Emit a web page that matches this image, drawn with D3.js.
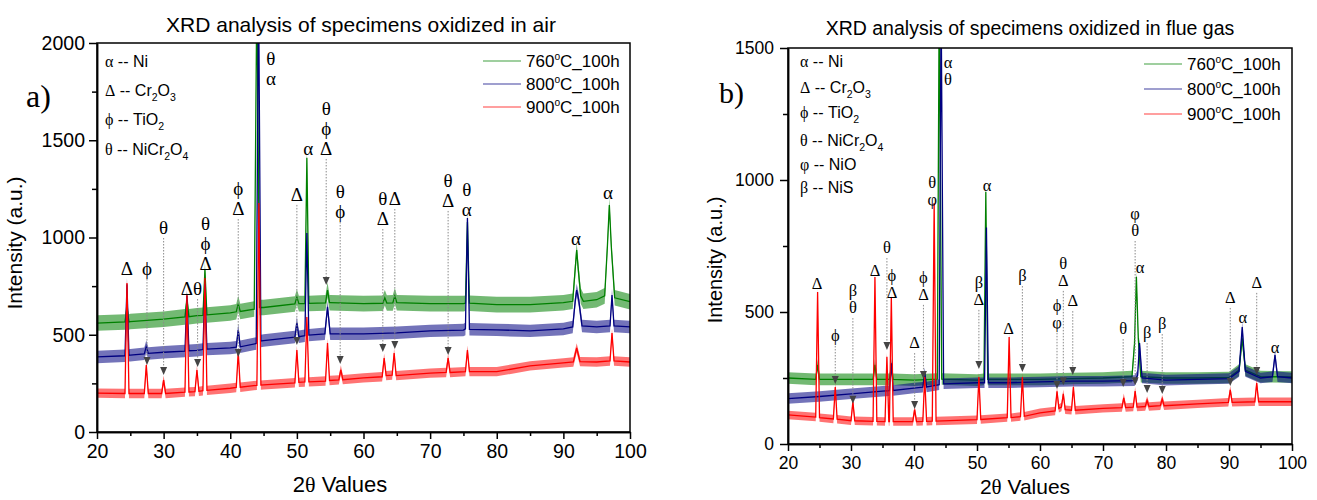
<!DOCTYPE html>
<html lang="en">
<head>
<meta charset="utf-8">
<title>XRD analysis of oxidized specimens</title>
<script src="https://cdn.jsdelivr.net/npm/d3@7"></script>
<style>
  body { margin: 0; background: #fff; }
  svg text { font-family: "Liberation Sans", Arial, sans-serif; fill: #000; }
  svg .greek { font-family: "Liberation Serif", "Times New Roman", serif; }
  .axis path, .axis line { stroke: #000; stroke-width: 1.5px; }
</style>
</head>
<body>
<svg id="chart" width="1317" height="500"></svg>
<script>
// ---------- data ----------
var seriesNames = ['760°C_100h', '800°C_100h', '900°C_100h'];
var seriesColors = ['#008000', '#000080', '#ff0000'];

var airPhases = ['α -- Ni', 'Δ -- Cr_2O_3', 'ϕ -- TiO_2', 'θ -- NiCr_2O_4'];
var gasPhases = ['α -- Ni', 'Δ -- Cr_2O_3', 'ϕ -- TiO_2', 'θ -- NiCr_2O_4', 'φ -- NiO', 'β -- NiS'];

// [2theta, intensity]
var air760 = [[20,560],[24.2,566],[24.5,640],[24.8,566],[25,568],[30,580],[33.2,592],[33.5,680],[33.8,593],[35,598],
  [35.9,600],[36.2,833],[36.5,602],[40,612],[40.9,618],[41.2,660],[41.5,620],[43.6,632],[44,2300],[44.4,640],[45,640],
  [49.7,658],[50,694],[50.3,660],[51.2,660],[51.5,1410],[51.8,661],[54.3,664],[54.6,730],[54.9,665],[55,665],[60,660],
  [62.9,662],[63.2,690],[63.5,663],[64.4,664],[64.7,700],[65,665],[70,660],[75,660],[75.3,662],[75.6,1080],[75.9,662],
  [80,655],[85,655],[90,665],[91.4,672],[91.8,850],[92,936],[92.2,850],[92.6,700],[93,672],[95,680],[96.2,700],
  [96.6,950],[96.9,1167],[97.2,950],[97.7,690],[100,670]];
var air800 = [[20,386],[24.2,392],[24.5,760],[24.8,394],[25,395],[27.1,402],[27.4,440],[27.7,404],[30,410],[33.2,416],
  [33.5,700],[33.8,418],[35,420],[35.9,424],[36.2,760],[36.5,426],[40,432],[40.9,436],[41.2,524],[41.5,438],[43.9,455],
  [44.25,2300],[44.6,468],[45,470],[49.7,488],[50,560],[50.3,490],[51.2,495],[51.5,1023],[51.8,498],[54.2,505],[54.6,643],
  [55,505],[60,505],[65,510],[70,520],[75,524],[75.3,530],[75.6,1100],[75.9,528],[80,525],[85,520],[90,530],[91.4,540],
  [91.8,680],[92,730],[92.3,680],[92.8,545],[95,540],[97,545],[97.3,704],[97.6,545],[100,540]];
var air900 = [[20,200],[24.2,198],[24.5,766],[24.8,198],[25,198],[27.1,198],[27.4,344],[27.7,198],[29.7,198],[30,267],
  [30.3,198],[33.2,205],[33.5,704],[33.8,206],[34.7,208],[35,319],[35.3,209],[35.9,212],[36.2,792],[36.5,214],[40,225],
  [40.9,229],[41.2,411],[41.5,230],[44,240],[44.3,1177],[44.6,241],[45,242],[49.7,253],[50,421],[50.3,255],[51.2,257],
  [51.5,591],[51.8,258],[54.3,262],[54.6,458],[54.9,265],[56.3,268],[56.6,319],[56.9,269],[60,278],[62.8,284],
  [63.1,380],[63.4,290],[64.3,292],[64.6,406],[64.9,290],[70,303],[72.4,306],[72.7,380],[73,306],[75.3,310],[75.6,421],
  [75.9,310],[80,310],[85,340],[90,355],[91.5,360],[92,432],[92.5,362],[95,360],[97,365],[97.3,509],[97.6,365],[100,360]];

var gas760 = [[20,250],[24.4,245],[24.7,300],[25,245],[30,245],[33.5,245],[33.8,300],[34.1,245],[36.1,245],[36.4,290],
  [36.7,245],[40,242],[43.7,246],[44,1700],[44.4,246],[50,242],[51.1,245],[51.4,955],[51.7,245],[55,245],[60,245],
  [65,248],[70,250],[74.6,255],[75,380],[75.3,633],[75.6,400],[76,255],[80,250],[85,250],[90,252],[91.6,280],
  [92.1,400],[92.6,280],[95,255],[100,254]];
var gas800 = [[20,172],[25,180],[30,190],[35,200],[36.1,202],[36.4,306],[36.7,203],[40,212],[41.4,215],[41.7,270],
  [42,216],[44,225],[44.3,1700],[44.7,228],[50,232],[51.2,232],[51.5,820],[51.8,232],[55,232],[60,235],[65,238],
  [70,238],[75,240],[75.5,260],[75.8,382],[76.2,250],[80,242],[85,245],[90,248],[91.6,275],[92.1,443],[92.6,275],
  [95,250],[96.9,255],[97.3,337],[97.7,255],[100,250]];
var gas900 = [[20,110],[24.4,102],[24.7,576],[25,100],[27.2,95],[27.5,216],[27.8,94],[30,88],[30.3,160],[30.6,88],
  [33.5,86],[33.8,633],[34.1,86],[35.4,85],[35.7,330],[36,85],[36.1,85],[36.4,557],[36.7,85],[39.8,85],[40.1,130],
  [40.4,85],[41.4,86],[41.7,254],[42,86],[42.9,87],[43.2,913],[43.5,87],[50,92],[50.3,254],[50.6,93],[54.8,100],
  [55.1,405],[55.4,100],[56.9,104],[57.2,254],[57.5,105],[60,118],[62.4,125],[62.7,200],[63,135],[63.4,140],
  [63.7,190],[64,130],[65,128],[65.3,216],[65.6,128],[70,135],[73,138],[73.3,175],[73.6,138],[74.8,140],[75.1,200],
  [75.4,140],[76.7,142],[77,165],[77.3,142],[79.1,145],[79.4,170],[79.7,145],[85,152],[89.9,158],[90.2,205],
  [90.5,158],[94.1,160],[94.4,231],[94.7,160],[100,160]];

// half width of the noise band of each scan
var airNoise = [40, 32, 24];
var gasNoise = [22, 20, 16];

// peak marks: [2theta, labels, intensity of top label, arrow tip intensity]
var airMarks = [[24.5,'Δ',843,null],[27.5,'ϕ',843,344],[30,'θ',1054,293],[33.5,'Δ',740,null],[35.1,'θ',740,334],
  [36.3,'θϕΔ',1075,null],[41.2,'ϕΔ',1254,386],[46.1,'θα',1923,null],[50,'Δ',1224,447],[51.7,'α',1460,null],
  [54.4,'θϕΔ',1666,756],[56.5,'θϕ',1239,350],[62.9,'θΔ',1203,411],[64.7,'Δ',1203,427],[72.7,'θΔ',1296,396],
  [75.5,'θα',1249,null],[91.9,'α',997,null],[96.7,'α',1234,null]];
var gasMarks = [[24.6,'Δ',610,null],[27.5,'ϕ',413,227],[30.3,'βθ',583,152],[33.8,'Δ',659,null],[35.7,'θ',746,356],
  [36.5,'ϕΔ',640,null],[40.1,'Δ',386,133],[41.5,'ϕΔ',633,246],[42.9,'θφ',992,null],[45.4,'αθ',1447,null],
  [50.3,'βΔ',614,284],[51.6,'α',981,null],[55,'Δ',439,null],[57.2,'β',640,273],[62.7,'ϕφ',527,208],
  [63.7,'θΔ',686,223],[65.2,'Δ',545,261],[73.2,'θ',439,216],[75.1,'φθ',875,223],[75.9,'α',670,null],
  [77,'β',424,193],[79.4,'β',458,189],[90.2,'Δ',557,220],[92.2,'α',481,null],[94.4,'Δ',614,261],[97.3,'α',367,null]];

var xMajor = [20, 30, 40, 50, 60, 70, 80, 90, 100];
var xMinor = [25, 35, 45, 55, 65, 75, 85, 95];

// ---------- drawing ----------
var svg = d3.select('#chart');

function phaseText(sel, str, fs) {
  sel.append('tspan').attr('class', 'greek').text(str[0]);
  var down = false;
  str.slice(1).split(/_(\d)/).forEach(function(part, i) {
    if (part === '') return;
    var t = sel.append('tspan').text(part);
    if (i % 2 === 1) {
      t.attr('font-size', fs * 0.66).attr('dy', down ? 0 : fs * 0.3);
      down = true;
    } else if (down) {
      t.attr('dy', -fs * 0.3);
      down = false;
    }
  });
}

function tempText(sel, str, fs) {
  var parts = str.split('°');
  sel.append('tspan').text(parts[0]);
  sel.append('tspan').text('o').attr('font-size', fs * 0.6).attr('dy', -fs * 0.42);
  sel.append('tspan').text(parts[1]).attr('dy', fs * 0.42);
}

function drawPanel(p, idx) {
  var g = svg.append('g');
  var x = d3.scaleLinear().domain([20, 100]).range([p.left, p.right]);
  var y = d3.scaleLinear().domain([0, p.yMax]).range([p.bottom, p.top]);

  g.append('clipPath').attr('id', 'clip' + idx)
    .append('rect').attr('x', p.left).attr('y', p.top)
    .attr('width', p.right - p.left).attr('height', p.bottom - p.top);

  var plot = g.append('g').attr('clip-path', 'url(#clip' + idx + ')');

  p.series.forEach(function(s, i) {
    var band = d3.area()
      .x(function(d) { return x(d[0]); })
      .y0(function(d) { return y(d[1] - p.noise[i]); })
      .y1(function(d) { return y(d[1] + p.noise[i]); });
    var line = d3.line()
      .x(function(d) { return x(d[0]); })
      .y(function(d) { return y(d[1]); });
    plot.append('path').datum(s).attr('d', band)
      .attr('fill', seriesColors[i]).attr('fill-opacity', 0.55);
    plot.append('path').datum(s).attr('d', line)
      .attr('fill', 'none').attr('stroke', seriesColors[i]).attr('stroke-width', 1.3);
  });

  // peak labels, dotted leaders and arrow heads
  p.marks.forEach(function(m) {
    var px = x(m[0]);
    var labels = m[1].split('');
    var yTop = y(m[2]);
    labels.forEach(function(c, k) {
      g.append('text').attr('class', 'greek')
        .attr('x', px).attr('y', yTop + k * p.markGap)
        .attr('dy', '0.35em')
        .attr('text-anchor', 'middle')
        .attr('font-size', p.markFs)
        .text(c);
    });
    if (m[3] !== null) {
      var y0 = yTop + (labels.length - 1) * p.markGap + 11;
      var tip = y(m[3]);
      g.append('line').attr('x1', px).attr('x2', px).attr('y1', y0).attr('y2', tip - 6)
        .attr('stroke', '#8a8a8a').attr('stroke-width', 1).attr('stroke-dasharray', '1.5,1.5');
      g.append('path')
        .attr('d', 'M' + (px - 3.5) + ',' + (tip - 8) + 'L' + (px + 3.5) + ',' + (tip - 8) + 'L' + px + ',' + tip + 'Z')
        .attr('fill', '#444');
    }
  });

  // frame
  g.append('rect').attr('x', p.left).attr('y', p.top)
    .attr('width', p.right - p.left).attr('height', p.bottom - p.top)
    .attr('fill', 'none').attr('stroke', '#000').attr('stroke-width', 1.5);

  // axes
  var xAxis = g.append('g').attr('class', 'axis')
    .attr('transform', 'translate(0,' + p.bottom + ')')
    .call(d3.axisBottom(x).tickValues(xMajor).tickSize(7).tickSizeOuter(0)
      .tickPadding(p.xPad).tickFormat(d3.format('d')));
  xAxis.selectAll('text').attr('font-size', p.tickFs);
  g.append('g').attr('class', 'axis')
    .attr('transform', 'translate(0,' + p.bottom + ')')
    .call(d3.axisBottom(x).tickValues(xMinor).tickSize(4).tickSizeOuter(0).tickFormat(''));

  var yAxis = g.append('g').attr('class', 'axis')
    .attr('transform', 'translate(' + p.left + ',0)')
    .call(d3.axisLeft(y).tickValues(p.yMajor).tickSize(8).tickSizeOuter(0)
      .tickPadding(p.yPad).tickFormat(d3.format('d')));
  yAxis.selectAll('text').attr('font-size', p.tickFs);
  g.append('g').attr('class', 'axis')
    .attr('transform', 'translate(' + p.left + ',0)')
    .call(d3.axisLeft(y).tickValues(p.yMinor).tickSize(5).tickSizeOuter(0).tickFormat(''));
  g.selectAll('.axis text').attr('font-family', '"Liberation Sans", Arial, sans-serif');

  // titles and axis labels
  g.append('text').attr('x', p.titleX).attr('y', p.titleY)
    .attr('text-anchor', 'middle').attr('font-size', p.titleFs).text(p.title);
  var xl = g.append('text').attr('x', p.xLabelX).attr('y', p.xLabelY)
    .attr('text-anchor', 'middle').attr('font-size', p.labelFs);
  xl.append('tspan').text('2');
  xl.append('tspan').attr('class', 'greek').text('θ');
  xl.append('tspan').text(' Values');
  g.append('text')
    .attr('transform', 'translate(' + p.yLabelX + ',' + p.yLabelY + ') rotate(-90)')
    .attr('text-anchor', 'middle').attr('font-size', p.labelFs - 1)
    .text('Intensity (a.u.)');
  g.append('text').attr('class', 'greek').attr('x', p.tagX).attr('y', p.tagY)
    .attr('font-size', p.tagFs).text(p.tag);

  // phase key
  p.phases.forEach(function(str, k) {
    var t = g.append('text').attr('x', p.keyX).attr('y', p.keyY[k]).attr('font-size', 16);
    phaseText(t, str, 16);
  });

  // series legend
  seriesNames.forEach(function(name, i) {
    var by = p.legY + i * p.legGap;
    g.append('line').attr('x1', p.legX).attr('x2', p.legX + 38)
      .attr('y1', by - 6).attr('y2', by - 6)
      .attr('stroke', seriesColors[i]).attr('stroke-opacity', 0.5).attr('stroke-width', 1.5);
    var t = g.append('text').attr('x', p.legX + 43).attr('y', by).attr('font-size', 17);
    tempText(t, name, 17);
  });
}

var panels = [
  { title: 'XRD analysis of specimens oxidized in air', tag: 'a)',
    left: 97, right: 630, top: 43, bottom: 432, yMax: 2000,
    yMajor: [0, 500, 1000, 1500, 2000], yMinor: [250, 750, 1250, 1750],
    series: [air760, air800, air900], noise: airNoise, marks: airMarks, phases: airPhases,
    tickFs: 19.5, xPad: 5, yPad: 4, markFs: 19, markGap: 20,
    titleX: 361, titleY: 32, titleFs: 21, xLabelX: 340, xLabelY: 492, labelFs: 22,
    yLabelX: 22, yLabelY: 243, tagX: 26, tagY: 107, tagFs: 32,
    keyX: 105, keyY: [67, 96, 125, 155], legX: 483, legY: 67, legGap: 23 },
  { title: 'XRD analysis of specimens oxidized in flue gas', tag: 'b)',
    left: 788, right: 1292, top: 48, bottom: 444, yMax: 1500,
    yMajor: [0, 500, 1000, 1500], yMinor: [250, 750, 1250],
    series: [gas760, gas800, gas900], noise: gasNoise, marks: gasMarks, phases: gasPhases,
    tickFs: 17.5, xPad: 6, yPad: 6, markFs: 16.5, markGap: 17,
    titleX: 1030, titleY: 35, titleFs: 19.5, xLabelX: 1025, xLabelY: 494, labelFs: 21,
    yLabelX: 722, yLabelY: 260, tagX: 719, tagY: 103, tagFs: 30,
    keyX: 800, keyY: [67, 93, 118, 146, 170, 193], legX: 1144, legY: 70, legGap: 25 }
];

panels.forEach(drawPanel);
</script>
</body>
</html>
